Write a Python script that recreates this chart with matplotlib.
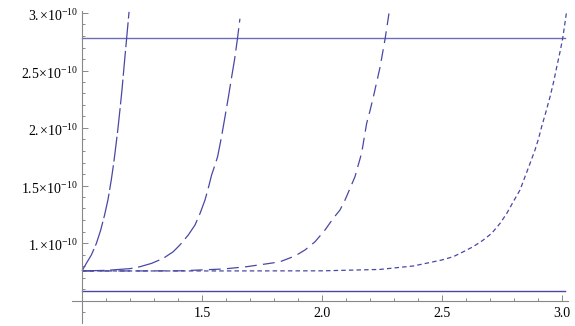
import numpy as np
import matplotlib
matplotlib.use('Agg')
import matplotlib.pyplot as plt
import matplotlib.transforms as mtransforms
from matplotlib.ticker import MultipleLocator, FuncFormatter

plt.rcParams['font.family'] = ['Liberation Serif', 'DejaVu Serif']
plt.rcParams['mathtext.fontset'] = 'custom'
plt.rcParams['mathtext.rm'] = 'Liberation Serif'
plt.rcParams['mathtext.it'] = 'Liberation Serif:italic'
plt.rcParams['mathtext.bf'] = 'Liberation Serif:bold'

# values, y in units of 1e-10
x1 = [1.0, 1.018, 1.039, 1.06, 1.078, 1.094, 1.108, 1.122, 1.132, 1.139,
      1.149, 1.158, 1.167, 1.175, 1.186, 1.196]
y1 = [0.757, 0.823, 0.896, 0.997, 1.113, 1.243, 1.374, 1.548, 1.693, 1.809,
      1.98, 2.157, 2.34, 2.53, 2.78, 3.01]

x2 = [1.0, 1.1, 1.2, 1.242, 1.29, 1.339, 1.38, 1.408, 1.443, 1.471, 1.492,
      1.5125, 1.526, 1.54, 1.554, 1.565, 1.581, 1.596, 1.61, 1.624, 1.636,
      1.647, 1.658]
y2 = [0.757, 0.762, 0.777, 0.794, 0.823, 0.867, 0.924, 0.983, 1.07, 1.157, 1.258,
      1.374, 1.476, 1.591, 1.678, 1.75, 1.92, 2.10, 2.27, 2.45, 2.6,
      2.765, 2.95]

x3 = [1.0, 1.2, 1.408, 1.59, 1.686, 1.783, 1.825, 1.8875, 1.929, 1.971, 2.0125,
      2.047, 2.075, 2.096, 2.117, 2.1375, 2.151, 2.165, 2.186, 2.2, 2.214,
      2.228, 2.242, 2.2625, 2.28]
y3 = [0.757, 0.757, 0.758, 0.774, 0.794, 0.823, 0.837, 0.887, 0.939, 1.011, 1.113,
      1.215, 1.287, 1.374, 1.476, 1.577, 1.678, 1.78, 2.04, 2.15, 2.27,
      2.4, 2.53, 2.77, 3.01]

x4 = [1.0, 1.5, 2.0, 2.24, 2.38, 2.499, 2.547, 2.589, 2.63, 2.672, 2.707, 2.742,
      2.77, 2.797, 2.825, 2.846, 2.867, 2.8875, 2.902, 2.915, 2.933, 2.95,
      2.965, 2.978, 2.991, 3.003, 3.019]
y4 = [0.757, 0.757, 0.758, 0.77, 0.80, 0.852, 0.881, 0.924, 0.968, 1.026, 1.084,
      1.171, 1.258, 1.359, 1.461, 1.577, 1.693, 1.809, 1.905, 2.01, 2.14, 2.27,
      2.4, 2.53, 2.655, 2.78, 3.01]

x_flat = [1.0, 3.012]
y_top = [2.78, 2.78]
y_bottom = [0.583, 0.583]

col = '#4848a4'
scale = 1e-10

fig = plt.figure(figsize=(5.75, 3.26), dpi=100)
ax = fig.add_axes([72/575, 3/326, 496/575, 312/326])

ax.plot(x_flat, np.array(y_top) * scale, color=col, lw=1.0, alpha=0.8)
ax.plot(x_flat, np.array(y_bottom) * scale, color=col, lw=1.0)
ax.plot(x1, np.array(y1) * scale, color=col, lw=0.9, dashes=(20, 3))
ax.plot(x2, np.array(y2) * scale, color=col, lw=0.9, dashes=(18, 4.5))
ax.plot(x3, np.array(y3) * scale, color=col, lw=0.9, dashes=(9.5, 5))
ax.plot(x4, np.array(y4) * scale, color=col, lw=0.9, dashes=(3.6, 2.5))

ax.set_xlim(1 - 10/240, 1 + 486/240)
ax.set_ylim((0.5 - 22.5/115) * scale, (0.5 + 289.5/115) * scale)

for s in ['top', 'right']:
    ax.spines[s].set_visible(False)
ax.spines['left'].set_position(('data', 1.0))
ax.spines['bottom'].set_position(('data', 0.5 * scale))
for s in ['left', 'bottom']:
    ax.spines[s].set_color('#888888')
    ax.spines[s].set_linewidth(0.8)

ax.xaxis.set_major_locator(MultipleLocator(0.5))
ax.xaxis.set_minor_locator(MultipleLocator(0.1))
ax.yaxis.set_major_locator(MultipleLocator(0.5 * scale))
ax.yaxis.set_minor_locator(MultipleLocator(0.1 * scale))


def xfmt(v, pos):
    if abs(v - 1.0) < 1e-6:
        return ''
    return '%.1f' % v


def yfmt(v, pos):
    m = v / scale
    if abs(m - 0.5) < 1e-6 or m < 0.6:
        return ''
    if abs(m - round(m)) < 1e-6:
        s = r'%d.\!' % round(m)
    else:
        s = '%.1f' % m
    return r'$\mathrm{%s\!\times\!10^{-10}}$' % s


ax.xaxis.set_major_formatter(FuncFormatter(xfmt))
ax.yaxis.set_major_formatter(FuncFormatter(yfmt))

ax.tick_params(which='both', direction='in', color='#888888', width=0.7)
ax.tick_params(which='major', length=4.5, labelsize=10, pad=3)
ax.tick_params(which='minor', length=2.5)
ax.tick_params(axis='x', pad=5, labelsize=10)

# nudge y labels down a little so the top one is not clipped
fig.canvas.draw()
shift = mtransforms.ScaledTranslation(0, -2/100, fig.dpi_scale_trans)
for lab in ax.get_yticklabels():
    lab.set_transform(lab.get_transform() + shift)

fig.savefig('out.png', dpi=100)
